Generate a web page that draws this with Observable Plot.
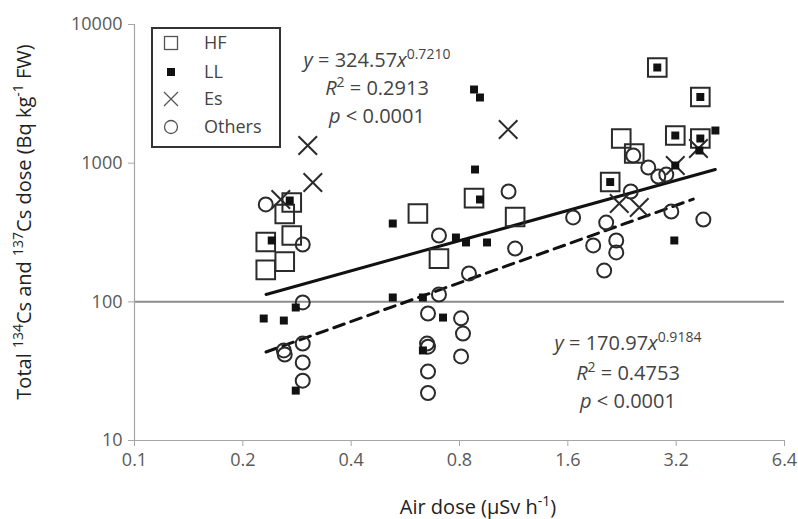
<!DOCTYPE html>
<html>
<head>
<meta charset="utf-8">
<script src="https://cdn.jsdelivr.net/npm/d3@7"></script>
<script src="https://cdn.jsdelivr.net/npm/@observablehq/plot@0.6"></script>
<style>
  html, body { margin: 0; padding: 0; background: #fff; }
  #chart svg { font-family: "Open Sans", sans-serif; }
  g[aria-label="x-axis tick label"], g[aria-label="y-axis tick label"] { fill: #595959; }
</style>
</head>
<body>
<div id="chart"></div>
<script>
// ---- Data ----
const xTicks = [0.1, 0.2, 0.4, 0.8, 1.6, 3.2, 6.4];
const yTicks = [10, 100, 1000, 10000];

// HF (open squares)
const hfX = [0.2735, 0.2615, 0.2316, 0.2735, 0.2316, 0.2615, 0.613, 0.7015, 0.878, 1.142, 2.098, 2.252, 2.447, 2.836, 3.182, 3.735, 3.735];
const hfY = [520, 430, 270, 301, 170, 195, 434, 205, 560, 409, 731, 1506, 1174, 4896, 1583, 3000, 1506];

// LL (filled squares)
const llX = [0.270, 0.2406, 0.2806, 0.2286, 0.260, 0.2806, 0.522, 0.522, 0.633, 0.72, 0.633, 0.782, 0.834, 0.954, 0.878, 0.912, 0.8835, 0.912, 2.098, 2.836, 3.735, 3.182, 3.735, 4.113, 3.182, 3.712, 3.162];
const llY = [538, 277, 91, 75.8, 73.3, 22.9, 367, 107.5, 107.5, 77, 44.6, 291, 268, 268, 3398, 2976, 900, 547, 731, 4896, 3000, 1583, 1506, 1720, 962, 1234, 277];

// Es (crosses)
const esX = [0.303, 0.313, 0.255, 1.092, 2.223, 2.527, 3.182, 3.69];
const esY = [1341, 725, 547, 1748, 512, 479, 962, 1276];

// Others (open circles)
const otX = [0.2316, 0.2934, 0.2934, 0.260, 0.2615, 0.2934, 0.2934, 0.2934, 0.7015, 0.7015, 0.654, 0.808, 0.818, 0.808, 0.65, 0.654, 0.654, 0.654, 0.85, 1.095, 1.142, 1.655, 1.882, 2.019, 2.045, 2.181, 2.181, 2.393, 2.432, 2.677, 2.854, 3.004, 3.102, 3.808];
const otY = [504, 259, 99, 44.6, 41.7, 50, 36.5, 27, 301, 113, 82.4, 76, 59, 40.4, 50, 47.5, 31.4, 22, 160, 625, 242, 406, 255, 168, 373, 277, 227, 625, 1136, 931, 801, 828, 448, 392];

// Power-law fit lines (end points)
const fitAllX = [0.232, 4.11];
const fitAllY = [113, 900];
const fitOthX = [0.232, 3.57];
const fitOthY = [43.5, 550];

const seriesNames = ["HF", "LL", "Es", "Others"];

// ---- Build tables ----
const zip = (xs, ys) => xs.map((x, i) => ({x, y: ys[i]}));
const hf = zip(hfX, hfY), ll = zip(llX, llY), es = zip(esX, esY), ot = zip(otX, otY);
const fitAll = zip(fitAllX, fitAllY), fitOth = zip(fitOthX, fitOthY);

const ink = "#2b2b2b";
const axisGray = "#a6a6a6";

const chart = Plot.plot({
  width: 798,
  height: 519,
  marginLeft: 134,
  marginRight: 14,
  marginTop: 24,
  marginBottom: 79,
  x: {type: "log", base: 2, domain: [0.1, 6.4]},
  y: {type: "log", domain: [10, 10000]},
  marks: [
    Plot.ruleY([100], {stroke: "#8c8c8c", strokeWidth: 2}),
    Plot.ruleX([0.1], {stroke: axisGray, strokeWidth: 1.2}),
    Plot.ruleY([10], {stroke: axisGray, strokeWidth: 1.2}),
    Plot.axisX({ticks: xTicks, tickFormat: d => String(d), tickSize: 6, tickPadding: 7, fontSize: 18, label: null, stroke: axisGray}),
    Plot.axisY({ticks: yTicks, tickFormat: d => String(d), tickSize: 6, tickPadding: 6, fontSize: 18, label: null, stroke: axisGray}),
    Plot.line(fitAll, {x: "x", y: "y", stroke: "#111", strokeWidth: 3}),
    Plot.line(fitOth, {x: "x", y: "y", stroke: "#111", strokeWidth: 3, strokeDasharray: "11,7"}),
    Plot.dot(ot, {x: "x", y: "y", r: 7, symbol: "circle", fill: "none", stroke: ink, strokeWidth: 2}),
    Plot.dot(hf, {x: "x", y: "y", r: 10.5, symbol: "square", fill: "none", stroke: ink, strokeWidth: 2}),
    Plot.dot(es, {x: "x", y: "y", r: 8.5, symbol: "times", stroke: ink, strokeWidth: 2}),
    Plot.dot(ll, {x: "x", y: "y", r: 4.5, symbol: "square", fill: "#111", stroke: "none"})
  ]
});
document.getElementById("chart").appendChild(chart);

// ---- Text annotations with superscripts ----
const svg = d3.select(chart);

function richText(parent, parts, size, fill) {
  const t = parent.append("text").attr("fill", fill).attr("font-size", size);
  let shifted = 0;
  parts.forEach(p => {
    const s = t.append("tspan").text(p.t);
    if (p.i) s.attr("font-style", "italic");
    if (p.sup) {
      const d = -Math.round(size * 0.42);
      s.attr("font-size", Math.round(size * 0.68)).attr("dy", d - shifted);
      shifted = d;
    } else if (shifted !== 0) {
      s.attr("dy", -shifted);
      shifted = 0;
    }
  });
  return t;
}

// Equation blocks
const eqFill = "#444";
const eqSize = 20;
const eq1 = svg.append("g").attr("text-anchor", "middle");
richText(eq1, [{t: "y", i: true}, {t: " = 324.57"}, {t: "x", i: true}, {t: "0.7210", sup: true}], eqSize, eqFill).attr("x", 377).attr("y", 67);
richText(eq1, [{t: "R", i: true}, {t: "2", sup: true}, {t: " = 0.2913"}], eqSize, eqFill).attr("x", 377).attr("y", 95);
richText(eq1, [{t: "p", i: true}, {t: " < 0.0001"}], eqSize, eqFill).attr("x", 377).attr("y", 123);

const eq2 = svg.append("g").attr("text-anchor", "middle");
richText(eq2, [{t: "y", i: true}, {t: " = 170.97"}, {t: "x", i: true}, {t: "0.9184", sup: true}], eqSize, eqFill).attr("x", 628).attr("y", 350);
richText(eq2, [{t: "R", i: true}, {t: "2", sup: true}, {t: " = 0.4753"}], eqSize, eqFill).attr("x", 628).attr("y", 380);
richText(eq2, [{t: "p", i: true}, {t: " < 0.0001"}], eqSize, eqFill).attr("x", 628).attr("y", 408);

// Axis titles
richText(svg.append("g").attr("text-anchor", "middle"),
  [{t: "Air dose (µSv h"}, {t: "-1", sup: true}, {t: ")"}], 20, "#222").attr("x", 478).attr("y", 514);

richText(svg.append("g").attr("text-anchor", "middle").attr("transform", "translate(31,222) rotate(-90)"),
  [{t: "Total "}, {t: "134", sup: true}, {t: "Cs and "}, {t: "137", sup: true}, {t: "Cs dose (Bq kg"}, {t: "-1", sup: true}, {t: " FW)"}], 20, "#222").attr("x", 0).attr("y", 0);

// Legend
const lg = svg.append("g").attr("text-anchor", "start");
lg.append("rect").attr("x", 152).attr("y", 28).attr("width", 128).attr("height", 119)
  .attr("fill", "#fff").attr("stroke", "#333").attr("stroke-width", 2);
const rowY = [43, 72, 99, 127];
seriesNames.forEach((name, i) => {
  const cy = rowY[i], cx = 171;
  if (name === "HF") lg.append("rect").attr("x", cx - 6.5).attr("y", cy - 6.5).attr("width", 13).attr("height", 13).attr("fill", "none").attr("stroke", "#555").attr("stroke-width", 1.3);
  if (name === "LL") lg.append("rect").attr("x", cx - 4).attr("y", cy - 4).attr("width", 8).attr("height", 8).attr("fill", "#111");
  if (name === "Es") lg.append("path").attr("d", `M${cx-7},${cy-7}L${cx+7},${cy+7}M${cx-7},${cy+7}L${cx+7},${cy-7}`).attr("stroke", "#555").attr("stroke-width", 1.3);
  if (name === "Others") lg.append("circle").attr("cx", cx).attr("cy", cy).attr("r", 6.5).attr("fill", "none").attr("stroke", "#555").attr("stroke-width", 1.3);
  lg.append("text").attr("x", 204).attr("y", cy + 6).attr("font-size", 18).attr("fill", "#444").text(name);
});
</script>
</body>
</html>
